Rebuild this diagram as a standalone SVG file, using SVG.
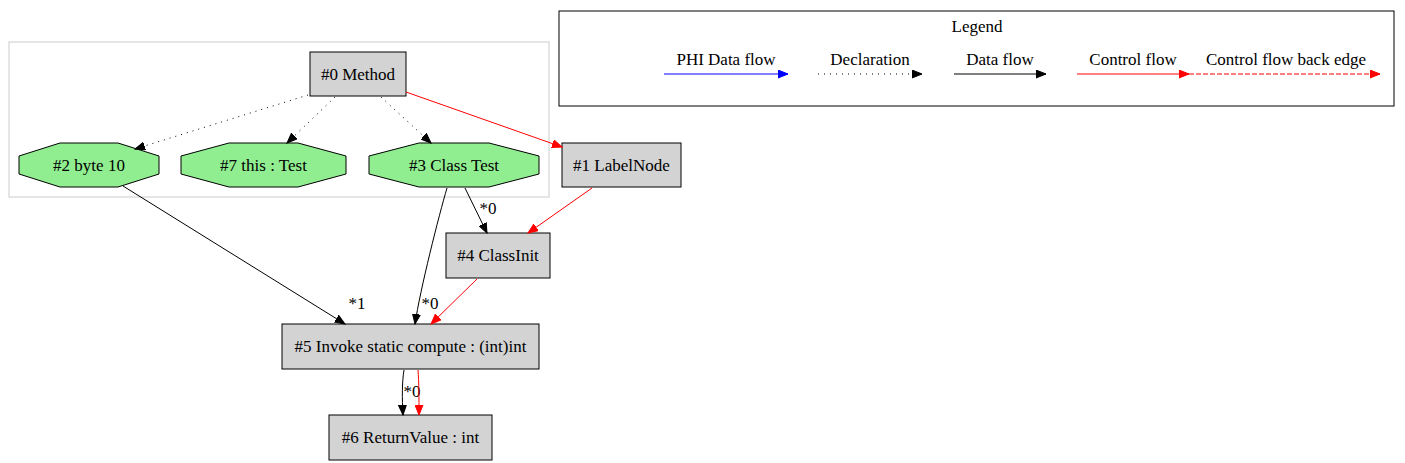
<svg xmlns="http://www.w3.org/2000/svg" width="1405" height="463" viewBox="0 0 1405 463">
<style>
text{font-family:"Liberation Serif","Times New Roman",serif;font-size:17px;fill:#000;text-anchor:middle}
.box{fill:#d3d3d3;stroke:#000;stroke-width:1}
.oct{fill:#90ee90;stroke:#000;stroke-width:1}
.e{fill:none;stroke:#000;stroke-width:1}
.r{fill:none;stroke:#ff0000;stroke-width:1}
.d{fill:none;stroke:#000;stroke-width:1;stroke-dasharray:1,5}
</style>
<defs>
<marker id="ak" markerWidth="11" markerHeight="9" refX="10" refY="4.5" orient="auto" markerUnits="userSpaceOnUse"><path d="M0,0.5L10,4.5L0,8.5z" fill="#000" stroke="#000"/></marker>
<marker id="ar" markerWidth="11" markerHeight="9" refX="10" refY="4.5" orient="auto" markerUnits="userSpaceOnUse"><path d="M0,0.5L10,4.5L0,8.5z" fill="#f00" stroke="#f00"/></marker>
<marker id="ab" markerWidth="11" markerHeight="9" refX="10" refY="4.5" orient="auto" markerUnits="userSpaceOnUse"><path d="M0,0.5L10,4.5L0,8.5z" fill="#00f" stroke="#00f"/></marker>
</defs>
<rect width="1405" height="463" fill="#fff"/>
<rect id="cluster" x="9" y="42" width="540" height="155" fill="none" stroke="#cccccc"/>
<g id="legend">
<rect x="559" y="11" width="835" height="95" fill="none" stroke="#000"/>
<text x="977" y="32">Legend</text>
<text x="726" y="65">PHI Data flow</text>
<text x="870" y="65">Declaration</text>
<text x="1000" y="65">Data flow</text>
<text x="1133" y="65">Control flow</text>
<text x="1286" y="65">Control flow back edge</text>
<line x1="664" y1="74" x2="788" y2="74" stroke="#00f" marker-end="url(#ab)"/>
<line x1="818" y1="74" x2="922" y2="74" class="d" marker-end="url(#ak)"/>
<line x1="954" y1="74" x2="1046" y2="74" class="e" marker-end="url(#ak)"/>
<line x1="1077" y1="74" x2="1189" y2="74" class="r" marker-end="url(#ar)"/>
<line x1="1189" y1="74" x2="1380" y2="74" class="r" stroke-dasharray="5,2" marker-end="url(#ar)"/>
</g>
<g id="n0"><rect class="box" x="310" y="52" width="96" height="44"/><text x="358" y="80">#0 Method</text></g>
<g id="n2"><polygon class="oct" points="60,143 118,143 159,156 159,174 118,187 60,187 19,174 19,156"/><text x="89" y="171">#2 byte 10</text></g>
<g id="n7"><polygon class="oct" points="229,143 298,143 346,156 346,174 298,187 229,187 181,174 181,156"/><text x="263.5" y="171">#7 this : Test</text></g>
<g id="n3"><polygon class="oct" points="419,143 489,143 539,156 539,174 489,187 419,187 369,174 369,156"/><text x="454" y="171">#3 Class Test</text></g>
<g id="n1"><rect class="box" x="562" y="143" width="119" height="44"/><text x="621.5" y="171">#1 LabelNode</text></g>
<g id="n4"><rect class="box" x="446" y="233" width="104" height="45"/><text x="498" y="261">#4 ClassInit</text></g>
<g id="n5"><rect class="box" x="282" y="324" width="257" height="45"/><text x="410.5" y="352">#5 Invoke static compute : (int)int</text></g>
<g id="n6"><rect class="box" x="329" y="415" width="163" height="45"/><text x="410.5" y="443">#6 ReturnValue : int</text></g>
<g id="edges">
<path class="d" d="M308,95L135,149" marker-end="url(#ak)"/>
<path class="d" d="M335,97L287,143" marker-end="url(#ak)"/>
<path class="d" d="M381,97L431,143" marker-end="url(#ak)"/>
<path class="r" d="M406,92L562,147" marker-end="url(#ar)"/>
<path class="e" d="M123,186L345,324" marker-end="url(#ak)"/>
<text x="357" y="309">*1</text>
<path class="e" d="M447,188C439,215 420,290 415,324" marker-end="url(#ak)"/>
<text x="430" y="309">*0</text>
<path class="e" d="M465,188L487,233" marker-end="url(#ak)"/>
<text x="488" y="214">*0</text>
<path class="r" d="M592,188L528,233" marker-end="url(#ar)"/>
<path class="r" d="M477,279L431,324" marker-end="url(#ar)"/>
<path class="e" d="M404,370C402,382 402,398 403,415" marker-end="url(#ak)"/>
<text x="412" y="397">*0</text>
<path class="r" d="M418,370C419,382 419,398 419,415" marker-end="url(#ar)"/>
</g>
</svg>
